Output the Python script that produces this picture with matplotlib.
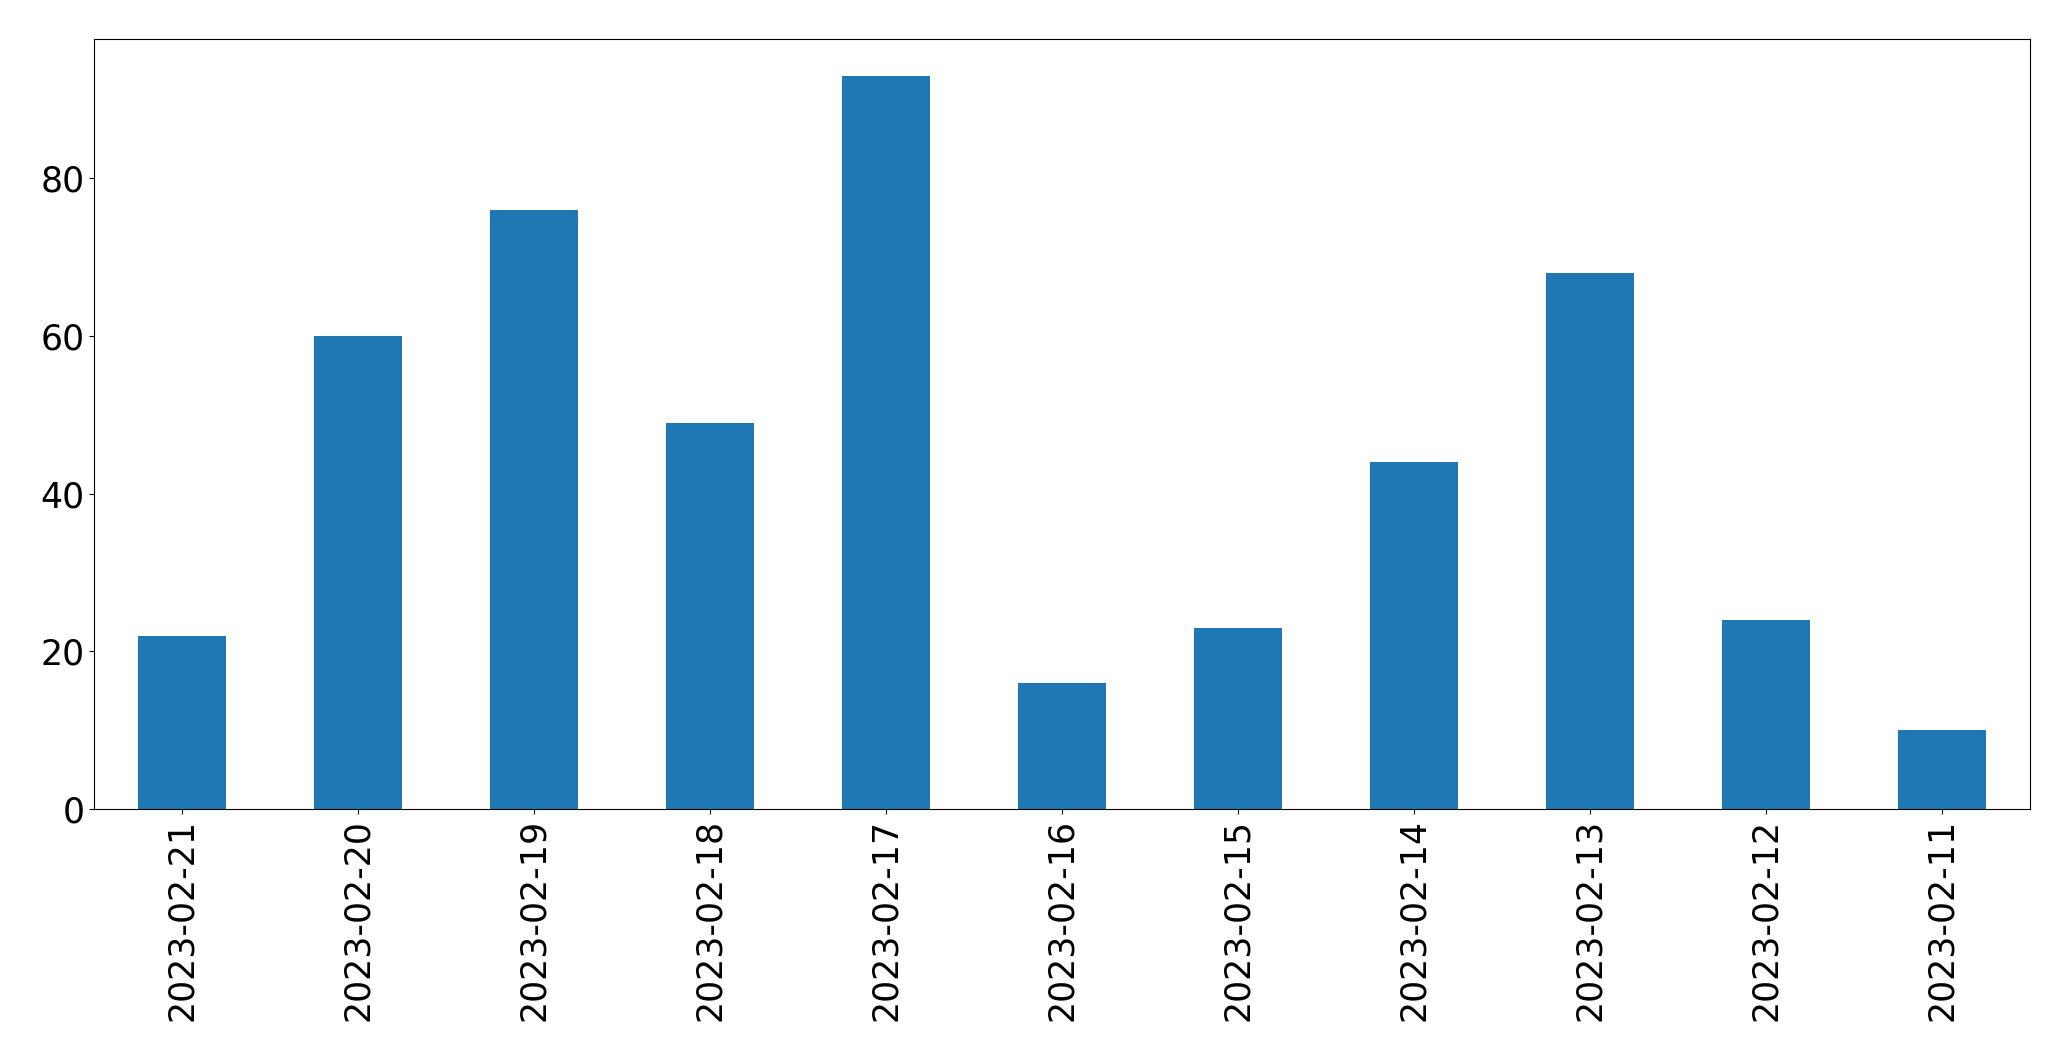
import matplotlib
matplotlib.use("Agg")
import matplotlib.pyplot as plt
import pandas as pd

# daily counts, newest first
dates = ["2023-02-21", "2023-02-20", "2023-02-19", "2023-02-18", "2023-02-17",
         "2023-02-16", "2023-02-15", "2023-02-14", "2023-02-13", "2023-02-12",
         "2023-02-11"]
counts = [22, 60, 76, 49, 93, 16, 23, 44, 68, 24, 10]

s = pd.Series(counts, index=dates)

plt.rcParams["font.size"] = 25
fig = plt.figure(figsize=(20.71, 10.61), dpi=100)
ax = fig.add_axes([94 / 2071, (1061 - 809) / 1061, (2030 - 94) / 2071, (809 - 39) / 1061])
s.plot.bar(ax=ax, color="#1f77b4")
ax.tick_params(labelsize=25)

fig.savefig("out.png", dpi=100)
